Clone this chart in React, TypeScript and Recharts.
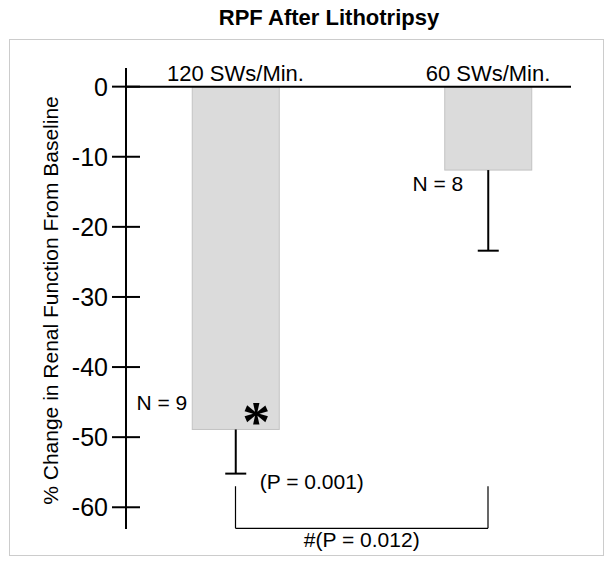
import { Bar, BarChart, ReferenceLine, XAxis, YAxis } from "recharts";

// values
const groups = ["120 SWs/Min.", "60 SWs/Min."];
const meanChange = [-48.9, -11.9];
const errorSize = [6.3, 11.5];
const sampleSize = [9, 8];
const withinGroupP = ["(P = 0.001)", ""];
const significant = [true, false];
const betweenGroupsP = "#(P = 0.012)";
const yTicks = [0, -10, -20, -30, -40, -50, -60];
const yDomain = [-63.1, 2.66];
const bracketTop = -57;
const bracketBottom = -63;

const FONT = '"Liberation Sans", Arial, Helvetica, sans-serif';

const data = groups.map((name, i) => ({
  name,
  value: meanChange[i],
  err: errorSize[i],
  n: sampleSize[i],
  p: withinGroupP[i],
  sig: significant[i],
}));

function BarWithError(props: any) {
  const { x, y, width, height, payload, index } = props;
  const top = Math.min(y, y + height);
  const bottom = Math.max(y, y + height);
  const pxPerUnit = Math.abs(height / payload.value);
  const cx = x + width / 2;
  const errEnd = bottom + payload.err * pxPerUnit;
  const nLabel = `N = ${payload.n}`;

  return (
    <g>
      <rect
        x={x}
        y={top}
        width={width}
        height={bottom - top}
        fill="#dbdbdb"
        stroke="#c2c2c2"
        strokeWidth={1}
      />
      <line x1={cx} x2={cx} y1={bottom} y2={errEnd} stroke="#000" strokeWidth={2} />
      <line x1={cx - 10.5} x2={cx + 10.5} y1={errEnd} y2={errEnd} stroke="#000" strokeWidth={2} />
      {index === 0 ? (
        <text x={x - 5} y={bottom - 19} textAnchor="end" fontSize={21} fontFamily={FONT}>
          {nLabel}
        </text>
      ) : (
        <text x={cx - 25} y={bottom + 21} textAnchor="end" fontSize={21} fontFamily={FONT}>
          {nLabel}
        </text>
      )}
      {payload.sig && (
        <text
          x={x + width - 23}
          y={bottom + 12}
          textAnchor="middle"
          fontSize={56}
          fontWeight="bold"
          fontFamily='"Liberation Serif", "Times New Roman", serif'
        >
          *
        </text>
      )}
      {payload.p && (
        <text x={cx + 24} y={errEnd + 15} fontSize={21} fontFamily={FONT}>
          {payload.p}
        </text>
      )}
    </g>
  );
}

function YTick({ x, y, payload }: any) {
  return (
    <g>
      <line x1={x - 14} x2={x + 14} y1={y} y2={y} stroke="#000" strokeWidth={2} />
      <text x={x - 18} y={y} dy="0.36em" textAnchor="end" fontSize={25} fontFamily={FONT} fill="#000">
        {payload.value}
      </text>
    </g>
  );
}

function GroupTick({ x, y, payload }: any) {
  return (
    <text x={x} y={y + 13} textAnchor="middle" fontSize={22} fontFamily={FONT} fill="#000">
      {payload.value}
    </text>
  );
}

function YAxisTitle({ viewBox }: any) {
  const tx = viewBox.x - 8;
  const ty = viewBox.y + viewBox.height / 2 + 2;
  return (
    <text
      x={tx}
      y={ty}
      transform={`rotate(-90 ${tx} ${ty})`}
      textAnchor="middle"
      fontSize={21}
      fontFamily={FONT}
      fill="#000"
    >
      % Change in Renal Function From Baseline
    </text>
  );
}

export default function App() {
  return (
    <div style={{ position: "absolute", left: 0, top: 0, width: 613, height: 565, background: "#fff" }}>
      <div
        style={{
          position: "absolute",
          left: 120,
          top: 7.4,
          width: 418,
          textAlign: "center",
          fontFamily: FONT,
          fontSize: 22,
          lineHeight: "22px",
          fontWeight: "bold",
        }}
      >
        RPF After Lithotripsy
      </div>
      <div
        style={{
          position: "absolute",
          left: 9,
          top: 39,
          width: 593,
          height: 515,
          border: "1px solid #cccccc",
        }}
      />
      <div style={{ position: "absolute", left: 0, top: 0 }}>
        <BarChart
          width={613}
          height={565}
          data={data}
          margin={{ top: 48, right: 42, bottom: 36, left: 66 }}
        >
          <XAxis
            dataKey="name"
            orientation="top"
            height={20}
            axisLine={false}
            tickLine={false}
            tickSize={0}
            tickMargin={0}
            interval={0}
            padding={{ left: -16.75, right: -43.25 }}
            tick={<GroupTick />}
          />
          <YAxis
            width={60}
            domain={yDomain}
            ticks={yTicks}
            interval={0}
            allowDataOverflow
            axisLine={{ stroke: "#000", strokeWidth: 2 }}
            tickLine={false}
            tickSize={0}
            tickMargin={0}
            tick={<YTick />}
            label={<YAxisTitle />}
          />
          <ReferenceLine y={0} stroke="#000" strokeWidth={2} />
          <Bar dataKey="value" barSize={87} isAnimationActive={false} shape={<BarWithError />} />
          <ReferenceLine
            segment={[
              { x: groups[0], y: bracketTop },
              { x: groups[0], y: bracketBottom },
            ]}
            stroke="#000"
            strokeWidth={1.2}
          />
          <ReferenceLine
            segment={[
              { x: groups[1], y: bracketTop },
              { x: groups[1], y: bracketBottom },
            ]}
            stroke="#000"
            strokeWidth={1.2}
          />
          <ReferenceLine
            segment={[
              { x: groups[0], y: bracketBottom },
              { x: groups[1], y: bracketBottom },
            ]}
            stroke="#000"
            strokeWidth={1.2}
            label={{
              value: betweenGroupsP,
              position: "bottom",
              offset: 4,
              fontSize: 21,
              fontFamily: FONT,
              fill: "#000",
            }}
          />
        </BarChart>
      </div>
    </div>
  );
}
